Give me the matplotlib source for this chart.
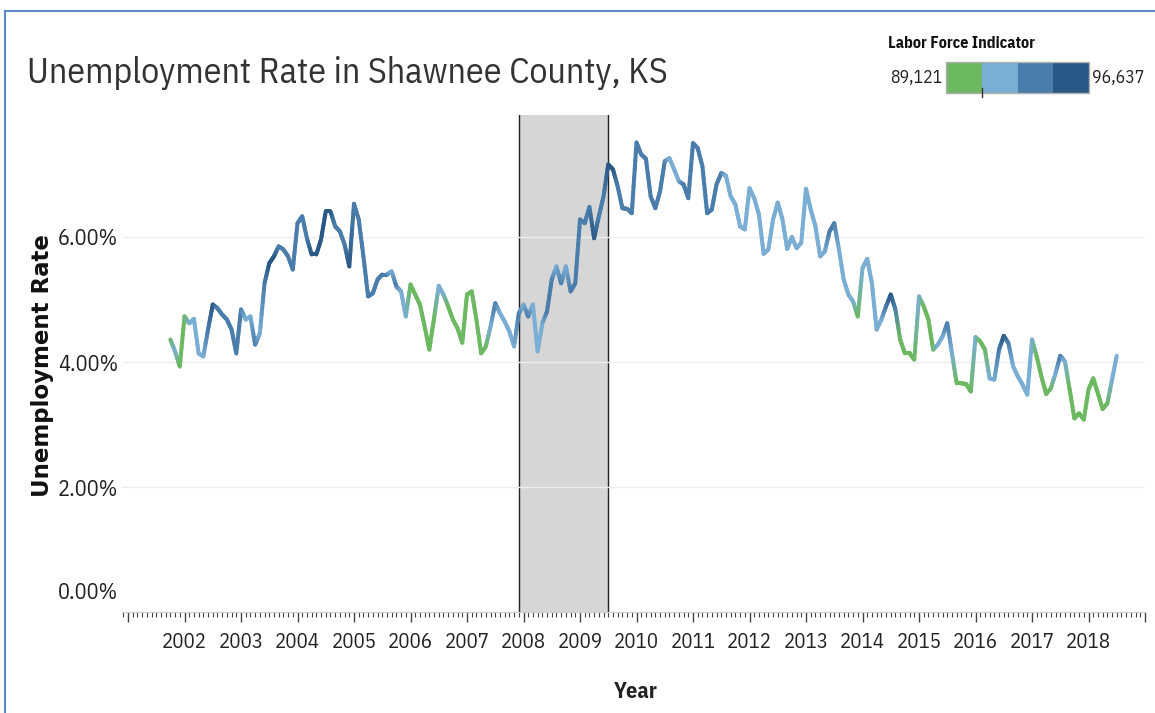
import numpy as np
import matplotlib.pyplot as plt
from matplotlib.collections import LineCollection
from matplotlib.colors import to_rgb
from matplotlib.lines import Line2D
import matplotlib.patches as mpatches
from matplotlib.ticker import MultipleLocator, FixedLocator

# monthly series, first point Oct 2001
start_year, start_month = 2001, 10

rate = [
    4.36, 4.17, 3.93,                                                        # 2001
    4.73, 4.62, 4.69, 4.14, 4.09, 4.52, 4.92, 4.86, 4.76, 4.68, 4.52, 4.14,  # 2002
    4.84, 4.68, 4.73, 4.28, 4.46, 5.26, 5.58, 5.69, 5.85, 5.80, 5.69, 5.48,  # 2003
    6.22, 6.33, 5.98, 5.72, 5.72, 5.96, 6.41, 6.41, 6.17, 6.09, 5.88, 5.53,  # 2004
    6.53, 6.28, 5.69, 5.05, 5.10, 5.32, 5.40, 5.40, 5.45, 5.21, 5.13, 4.73,  # 2005
    5.24, 5.08, 4.92, 4.57, 4.20, 4.70, 5.22, 5.08, 4.89, 4.68, 4.54, 4.31,  # 2006
    5.08, 5.13, 4.68, 4.14, 4.25, 4.57, 4.94, 4.78, 4.65, 4.49, 4.25, 4.78,  # 2007
    4.92, 4.73, 4.92, 4.17, 4.62, 4.81, 5.32, 5.53, 5.26, 5.53, 5.13, 5.26,  # 2008
    6.28, 6.22, 6.48, 5.98, 6.33, 6.65, 7.16, 7.08, 6.81, 6.46, 6.45, 6.38,  # 2009
    7.51, 7.32, 7.25, 6.65, 6.46, 6.73, 7.21, 7.26, 7.08, 6.89, 6.84, 6.62,  # 2010
    7.50, 7.42, 7.13, 6.38, 6.44, 6.84, 7.02, 6.98, 6.65, 6.52, 6.17, 6.12,  # 2011
    6.78, 6.62, 6.36, 5.73, 5.80, 6.28, 6.55, 6.28, 5.81, 6.00, 5.82, 5.91,  # 2012
    6.77, 6.44, 6.17, 5.69, 5.77, 6.09, 6.22, 5.80, 5.32, 5.08, 4.97, 4.73,  # 2013
    5.50, 5.65, 5.26, 4.52, 4.68, 4.89, 5.08, 4.84, 4.36, 4.14, 4.14, 4.04,  # 2014
    5.05, 4.89, 4.68, 4.20, 4.28, 4.41, 4.62, 4.14, 3.66, 3.66, 3.65, 3.53,  # 2015
    4.40, 4.33, 4.20, 3.74, 3.72, 4.20, 4.42, 4.30, 3.93, 3.77, 3.64, 3.48,  # 2016
    4.36, 4.09, 3.77, 3.49, 3.58, 3.82, 4.10, 4.01, 3.56, 3.10, 3.18, 3.08,  # 2017
    3.56, 3.74, 3.50, 3.25, 3.34, 3.72, 4.10,                                # 2018
]

# labor force colour step for each month (0 = lowest ... 3 = highest)
labor_bin = [
    0, 1, 0,
    0, 1, 1, 1, 1, 2, 3, 2, 2, 2, 2, 2,
    2, 1, 1, 2, 1, 2, 3, 3, 2, 2, 2, 2,
    2, 2, 2, 3, 3, 3, 3, 3, 2, 2, 2, 3,
    2, 2, 2, 2, 2, 2, 2, 2, 1, 2, 1, 1,
    0, 0, 0, 0, 0, 0, 1, 1, 0, 0, 0, 0,
    0, 0, 0, 0, 0, 1, 2, 1, 1, 1, 1, 2,
    1, 2, 1, 1, 1, 2, 2, 1, 2, 1, 2, 2,
    2, 2, 2, 3, 2, 2, 3, 3, 2, 2, 2, 2,
    2, 2, 2, 2, 2, 2, 2, 1, 1, 1, 2, 2,
    2, 2, 2, 2, 2, 2, 2, 1, 1, 1, 1, 1,
    1, 1, 1, 1, 1, 1, 1, 1, 1, 1, 1, 1,
    1, 1, 1, 1, 1, 2, 2, 1, 1, 1, 1, 0,
    1, 1, 1, 1, 1, 2, 3, 2, 0, 0, 0, 0,
    1, 0, 0, 0, 1, 1, 2, 1, 0, 0, 0, 0,
    1, 0, 0, 1, 1, 2, 3, 2, 1, 1, 1, 1,
    1, 0, 0, 0, 0, 1, 2, 1, 0, 0, 0, 0,
    0, 0, 0, 0, 0, 1, 1,
]

bin_colors = ["#6cb961", "#7aaed5", "#4a7dab", "#2a5886"]
legend_min, legend_max = "89,121", "96,637"
recession = (2007 + 11 / 12, 2009 + 6 / 12)
year_ticks = list(range(2001, 2020))
y_ticks = [0, 2, 4, 6]

NARROW = ["IBM Plex Sans Condensed", "Liberation Sans Narrow", "DejaVu Sans"]
W, H = 1155, 713


def fx(px):
    return px / W


def fy(py):
    return 1 - py / H


fig = plt.figure(figsize=(W / 100, H / 100), dpi=100)
ax = fig.add_axes([fx(122), fy(612.3), fx(1145) - fx(122), fy(115) - fy(612.3)])

# recession band + grid
ax.axvspan(recession[0], recession[1], color="#d6d6d6", zorder=0.5, lw=0)
for r in recession:
    ax.axvline(r, color="#222222", lw=1, zorder=0.6)
for v in y_ticks[1:]:
    ax.axhline(v, color="#ededed", lw=1, zorder=0.7)

# line coloured by labor force step, blended between months
t = start_year + (start_month - 1) / 12 + np.arange(len(rate)) / 12
cols = np.array([to_rgb(bin_colors[b]) for b in labor_bin])
segs, seg_cols = [], []
n_sub = 8
f = np.linspace(0, 1, n_sub + 1)
for i in range(len(rate) - 1):
    xs = t[i] + f * (t[i + 1] - t[i])
    ys = rate[i] + f * (rate[i + 1] - rate[i])
    for k in range(n_sub):
        segs.append([(xs[k], ys[k]), (xs[k + 1], ys[k + 1])])
        fm = (f[k] + f[k + 1]) / 2
        seg_cols.append(cols[i] * (1 - fm) + cols[i + 1] * fm)
lc = LineCollection(segs, colors=seg_cols, linewidths=2.9, capstyle="round", joinstyle="round", zorder=3)
ax.add_collection(lc)

ax.set_xlim(2001 - 6 / 56.5, 2019)
ax.set_ylim(0, 7.95)

for s in ["top", "right", "left"]:
    ax.spines[s].set_visible(False)
ax.spines["bottom"].set_color("#cfcfcf")

ax.xaxis.set_major_locator(FixedLocator(year_ticks))
ax.set_xticklabels(["" if (y == year_ticks[0] or y == year_ticks[-1]) else str(y) for y in year_ticks])
ax.xaxis.set_minor_locator(MultipleLocator(1 / 12))
ax.tick_params(axis="x", which="major", length=7, width=1, color="#444444", pad=8,
               labelsize=15, labelcolor="#222222")
ax.tick_params(axis="x", which="minor", length=3.5, width=0.8, color="#444444")
for lab in ax.get_xticklabels():
    lab.set_family(NARROW)

# bottom label sits above the axis line, like the original
ax.set_yticks(y_ticks)
ax.set_yticklabels(["" if v == y_ticks[0] else f"{v:.2f}%" for v in y_ticks])
ax.tick_params(axis="y", length=0, pad=3, labelsize=16, labelcolor="#222222")
for lab in ax.get_yticklabels():
    lab.set_family(NARROW)
ax.annotate(f"{y_ticks[0]:.2f}%", xy=(0, y_ticks[0]), xycoords=("axes fraction", "data"),
            xytext=(-3, 14), textcoords="offset points", ha="right", va="center",
            fontsize=16, family=NARROW, color="#222222")

fig.text(fx(43), fy(366), "Unemployment Rate", rotation=90, ha="center", va="center",
         fontsize=16.5, fontweight="bold", color="#111111")
fig.text(fx(636), fy(692), "Year", ha="center", va="center", fontsize=16,
         fontweight="bold", family=NARROW, color="#222222")
fig.text(fx(27), fy(73), "Unemployment Rate in Shawnee County, KS", ha="left", va="center",
         fontsize=25.8, family=NARROW, color="#333333")

# legend
fig.text(fx(888), fy(44), "Labor Force Indicator", ha="left", va="center", fontsize=11.5,
         fontweight="bold", family=NARROW, color="#111111")
bx0, bx1, by0, by1 = 946, 1089, 62, 93
bw = (bx1 - bx0) / len(bin_colors)
for i, c in enumerate(bin_colors):
    fig.add_artist(mpatches.Rectangle((fx(bx0 + i * bw), fy(by1)), fx(bw), fy(by0) - fy(by1),
                                      facecolor=c, edgecolor="none", transform=fig.transFigure))
fig.add_artist(mpatches.Rectangle((fx(bx0), fy(by1)), fx(bx1 - bx0), fy(by0) - fy(by1),
                                  facecolor="none", edgecolor="#b0b0b0", lw=1, transform=fig.transFigure))
fig.add_artist(Line2D([fx(bx0 + bw)] * 2, [fy(88), fy(97)], color="#333333", lw=1))
fig.text(fx(942), fy(78), legend_min, ha="right", va="center", fontsize=12.8, family=NARROW, color="#222222")
fig.text(fx(1092), fy(78), legend_max, ha="left", va="center", fontsize=12.8, family=NARROW, color="#222222")

# dashboard frame
fig.add_artist(Line2D([fx(5), fx(5)], [0, fy(11)], color="#5b8bc8", lw=1.5))
fig.add_artist(Line2D([fx(5), 1], [fy(11), fy(11)], color="#5b8bc8", lw=1.5))

fig.savefig("out.png", dpi=100)
